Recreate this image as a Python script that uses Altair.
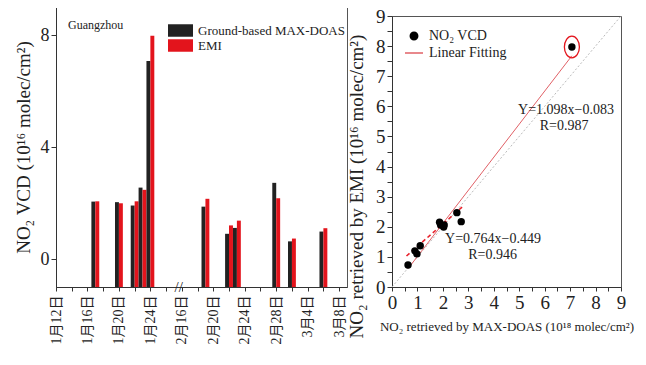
import altair as alt
import pandas as pd

# ---------------- data ----------------
bar_dates = ["1月17日", "1月20日", "1月22日", "1月23日", "1月24日", "2月19日",
             "2月22日", "2月23日", "2月28日", "3月2日", "3月6日"]
# position on the broken date axis (days after 1月12日; Feb/Mar compressed)
bar_pos = [5, 8, 10, 11, 12, 19, 22, 23, 28, 30, 34]
maxdoas = [2.05, 2.03, 1.91, 2.55, 7.07, 1.87, 0.90, 1.11, 2.72, 0.63, 0.98]
emi = [2.06, 1.99, 2.06, 2.47, 7.97, 2.15, 1.20, 1.37, 2.17, 0.73, 1.10]

series_names = ["Ground-based MAX-DOAS", "EMI"]
series_colors = ["#222222", "#e3141c"]

tick_pos = [0, 4, 8, 12, 16, 20, 24, 28, 32, 36]
tick_labels = ["1月12日", "1月16日", "1月20日", "1月24日", "2月16日",
               "2月20日", "2月24日", "2月28日", "3月4日", "3月8日"]
minor_tick_pos = list(range(0, 37, 2))
break_pos = [15.6]

# fits
fit1_slope, fit1_icpt = 1.098, -0.083
fit1_x = [0.63, 7.07]
dash_x = [0.57, 2.79]
dash_y = [1.03, 2.68]
ident = [0, 9]
scatter_series = ["NO₂ VCD", "Linear Fitting"]
annot_x = [6.84, 6.76, 3.97, 3.95]
annot_y = [5.89, 5.36, 1.58, 1.05]
annot_text = ["Y=1.098x−0.083", "R=0.987", "Y=0.764x−0.449", "R=0.946"]

serif = "Liberation Serif"
cjk = "Liberation Serif, Noto Sans CJK SC"
ink = "#222222"

# ---------------- left panel: bars ----------------
rows = []
for d, p, a, b in zip(bar_dates, bar_pos, maxdoas, emi):
    rows.append({"date": d, "series": series_names[0], "value": a, "x0": p - 0.5, "x1": p})
    rows.append({"date": d, "series": series_names[1], "value": b, "x0": p, "x1": p + 0.5})
bars_df = pd.DataFrame(rows)

label_expr = " : ".join(f"datum.value == {p} ? '{l}'" for p, l in zip(tick_pos, tick_labels)) + " : ''"

xscale_l = alt.Scale(domain=[0, 37], nice=False, zero=False)
yscale_l = alt.Scale(domain=[-1, 9], nice=False, zero=False)
xaxis_l = alt.Axis(values=minor_tick_pos, labelExpr=label_expr, labelAngle=270,
                   labelFont=cjk, labelFontSize=14, tickSize=4, labelPadding=4,
                   labelOverlap=False, labelFlush=False, title=None)
yaxis_l = alt.Axis(values=[0, 4, 8], title="NO₂ VCD (10¹⁶ molec/cm²)",
                   labelFontSize=18, titleFontSize=19, tickSize=5, labelPadding=2,
                   titlePadding=7)

bars = alt.Chart(bars_df).mark_bar().encode(
    x=alt.X("x0:Q", scale=xscale_l, axis=xaxis_l),
    x2="x1:Q",
    y=alt.Y("value:Q", scale=yscale_l, axis=yaxis_l),
    y2=alt.datum(-1),
    color=alt.Color("series:N", scale=alt.Scale(domain=series_names, range=series_colors),
                    legend=alt.Legend(orient="none", legendX=118, legendY=17, title=None,
                                      symbolType="M-2,-1H2V1H-2Z", symbolSize=156,
                                      symbolStrokeWidth=0, labelFont=serif, labelFontSize=13,
                                      labelOffset=11, rowPadding=1, labelColor=ink)),
)

brk = alt.Chart(pd.DataFrame({"x0": break_pos, "value": [-1]})).mark_text(
    text="//", font=serif, fontSize=15, color=ink
).encode(x=alt.X("x0:Q", scale=xscale_l, axis=xaxis_l),
         y=alt.Y("value:Q", scale=yscale_l, axis=yaxis_l))

left = alt.layer(bars, brk).properties(
    width=291, height=280,
    title=alt.TitleParams("Guangzhou", anchor="start", frame="group", dx=12, offset=-25,
                          font=serif, fontSize=12, fontWeight="normal", color=ink),
)

# ---------------- right panel: scatter ----------------
sc_df = pd.DataFrame({"x": maxdoas, "y": emi, "series": scatter_series[0]})
fit_df = pd.DataFrame({"x": fit1_x, "y": [fit1_slope * v + fit1_icpt for v in fit1_x],
                       "series": scatter_series[1]})
dash_df = pd.DataFrame({"x": dash_x, "y": dash_y})
ident_df = pd.DataFrame({"x": ident, "y": ident})
circ_df = pd.DataFrame({"x": [maxdoas[4]], "y": [emi[4]]})
annot_df = pd.DataFrame({"x": annot_x, "y": annot_y, "text": annot_text})

half_ticks = [i * 0.5 for i in range(19)]
int_expr = "datum.value % 1 == 0 ? '' + datum.value : ''"
xs = alt.Scale(domain=[0, 9], nice=False, zero=False)
ys = alt.Scale(domain=[0, 9], nice=False, zero=False)
xax = alt.Axis(values=half_ticks, labelExpr=int_expr, labelFontSize=19, tickSize=4,
               labelPadding=2, labelOverlap=False, labelFlush=False,
               title="NO₂ retrieved by MAX-DOAS (10¹⁸ molec/cm²)",
               titleFontSize=13, titlePadding=8)
yax = alt.Axis(values=half_ticks, labelExpr=int_expr, labelFontSize=19, tickSize=5,
               labelPadding=2, labelOverlap=False, labelFlush=False,
               title="NO₂ retrieved by EMI (10¹⁶ molec/cm²)",
               titleFontSize=19, titlePadding=9, titleY=170)
X = alt.X("x:Q", scale=xs, axis=xax)
Y = alt.Y("y:Q", scale=ys, axis=yax)

color_r = alt.Color("series:N", scale=alt.Scale(domain=scatter_series, range=["#000000", "#e06066"]),
                    legend=alt.Legend(orient="none", legendX=12, legendY=22, title=None,
                                      labelFont=serif, labelFontSize=14, labelOffset=5,
                                      rowPadding=0, labelColor=ink))
shape_r = alt.Shape("series:N", scale=alt.Scale(domain=scatter_series, range=["circle", "stroke"]))
size_r = alt.Size("series:N", scale=alt.Scale(domain=scatter_series, range=[55, 324]))

ident_l = alt.Chart(ident_df).mark_line(color="#bbbbbb", strokeDash=[2, 2], strokeWidth=1).encode(x=X, y=Y)
fit_l = alt.Chart(fit_df).mark_line(strokeWidth=1).encode(x=X, y=Y, color=color_r)
dash_l = alt.Chart(dash_df).mark_line(color="#e8202a", strokeDash=[4, 3], strokeWidth=1.6).encode(x=X, y=Y)
pts = alt.Chart(sc_df).mark_point(filled=True, opacity=1).encode(x=X, y=Y, color=color_r,
                                                                   shape=shape_r, size=size_r)
circ = alt.Chart(circ_df).mark_point(
    shape="M0,-1.45A1,1.45 0 1,1 0,1.45A1,1.45 0 1,1 0,-1.45Z", size=225, filled=False,
    color="#e3141c", strokeWidth=1.3, opacity=1
).encode(x=X, y=Y)
txt = alt.Chart(annot_df).mark_text(font=serif, fontSize=14, color=ink, align="center").encode(
    x=X, y=Y, text="text:N")

right = alt.layer(ident_l, fit_l, dash_l, pts, circ, txt).properties(width=229, height=271)

spacer = alt.Chart(pd.DataFrame({"a": [0]})).mark_rule(opacity=0).encode(
    x=alt.value(0), x2=alt.value(0), y=alt.value(0), y2=alt.value(0)
).properties(width=1, height=1, view=alt.ViewBackground(stroke="transparent"))

right_col = alt.vconcat(spacer, right, spacing=-3)

chart = alt.hconcat(left, right_col, spacing=-1).resolve_scale(
    color="independent", shape="independent", size="independent"
).resolve_legend(color="independent", shape="independent", size="independent").properties(
    padding={"left": 5, "top": -2, "right": 2, "bottom": 0}, background="white"
).configure_view(stroke="#555555").configure_axis(
    domainColor="#333333", tickColor="#333333", labelColor=ink, titleColor=ink, grid=False,
    labelFont=serif, titleFont=serif, titleFontWeight="normal"
)

chart.save("out.html", embed_options={"renderer": "svg", "actions": False})
